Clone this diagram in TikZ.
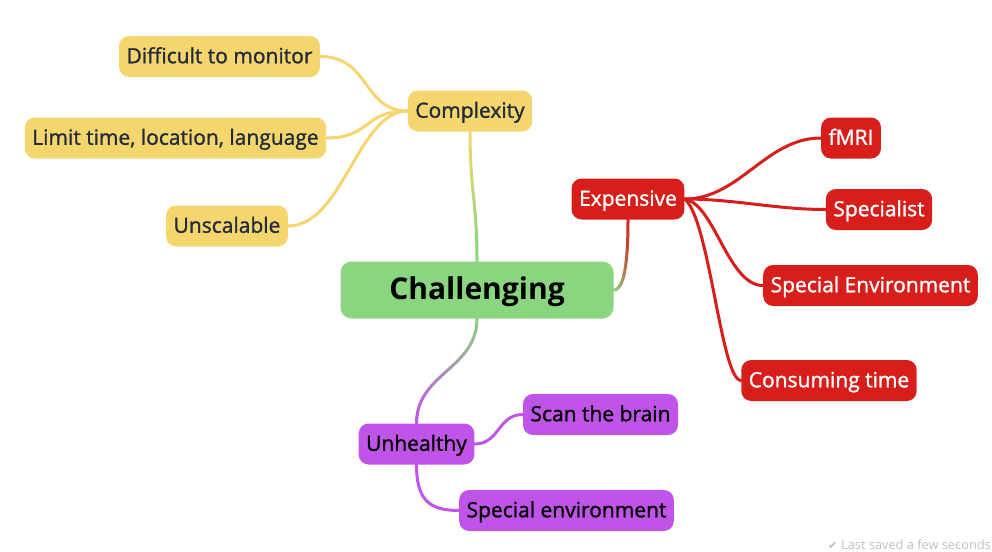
\documentclass[tikz,border=0pt]{standalone}
\usepackage{fontspec}
\setmainfont{Open Sans}
\newfontfamily\symfont{DejaVu Sans}
\usetikzlibrary{calc}

\definecolor{mmyellow}{RGB}{245,214,110}
\definecolor{mmgreen}{RGB}{138,213,127}
\definecolor{mmred}{RGB}{216,30,26}
\definecolor{mmpurple}{RGB}{192,84,233}
\definecolor{mmink}{RGB}{35,45,58}
\definecolor{mmgrey}{RGB}{190,190,190}

\tikzset{
	topic/.style={rounded corners=10pt, minimum height=41pt, inner xsep=7.5pt,
		text height=16.5pt, text depth=3pt,
		font=\fontsize{21}{25}\selectfont\addfontfeature{FakeBold=1.3}},
	yellowtopic/.style={topic, fill=mmyellow, text=mmink},
	redtopic/.style={topic, fill=mmred, text=white},
	purpletopic/.style={topic, fill=mmpurple, text=black},
	roottopic/.style={rounded corners=11pt, fill=mmgreen, text=black,
		minimum width=273pt, minimum height=57pt,
		text height=23pt, text depth=5pt,
		font=\fontsize{30}{34}\selectfont\bfseries},
	link/.style={line width=3pt, line cap=round},
}

% gradient connector: start, control 1, control 2, end, colour at start, colour at end
\newcommand\gradlink[6]{%
	\foreach \k in {1,...,24} {
		\pgfmathsetmacro\pct{int(100-(\k-0.5)*100/24)}
		\path (#1) .. controls #2 and #3 .. (#4)
			coordinate[pos={(\k-1)/24}] (ga) coordinate[pos={\k/24}] (gb);
		\draw[link, color=#5!\pct!#6] (ga) -- (gb);
	}
}

\begin{document}
\begin{tikzpicture}[x=1pt, y=-1pt]

% frame %{{{2

	\useasboundingbox (0,0) rectangle (992,551);

% nodes %{{{2

	\node[roottopic] (chall) at (477,290) {Challenging};

	\node[yellowtopic] (complex) at (470,111) {Complexity};
	\node[yellowtopic] (diff) at (219.5,56.5) {Difficult to monitor};
	\node[yellowtopic] (limit) at (175.5,138) {Limit time, location, language};
	\node[yellowtopic] (unscal) at (227,226) {Unscalable};

	\node[redtopic] (expens) at (628,199) {Expensive};
	\node[redtopic] (fmri) at (851,138) {fMRI};
	\node[redtopic] (spec) at (879,209.5) {Specialist};
	\node[redtopic] (specenv) at (870.5,285.5) {Special Environment};
	\node[redtopic] (consum) at (829,380.5) {Consuming time};

	\node[purpletopic] (unhea) at (416.5,444) {Unhealthy};
	\node[purpletopic] (scan) at (600.5,414.5) {Scan the brain};
	\node[purpletopic] (specenvb) at (566.5,510.5) {Special environment};

% main branches %{{{2

	\gradlink{complex.south}{+(0,60)}{+(0,-60)}{chall.north}{mmyellow}{mmgreen}
	\gradlink{expens.south}{+(0,45)}{+(10,0)}{chall.east}{mmred}{mmgreen}
	\gradlink{chall.south}{+(0,50)}{+(0,-50)}{unhea.north}{mmgreen}{mmpurple}

% leaves %{{{2

	\draw[link, mmyellow] (complex.west) .. controls +(-45,0) and +(50,0) .. (diff.east);
	\draw[link, mmyellow] (complex.west) .. controls +(-45,0) and +(45,0) .. (limit.east);
	\draw[link, mmyellow] (complex.west) .. controls +(-50,0) and +(55,0) .. (unscal.east);

	\draw[link, mmred] (expens.east) .. controls +(55,0) and +(-55,0) .. (fmri.west);
	\draw[link, mmred] (expens.east) .. controls +(50,0) and +(-50,0) .. (spec.west);
	\draw[link, mmred] (expens.east) .. controls +(30,5) and +(-35,0) .. (specenv.west);
	\draw[link, mmred] (expens.east) .. controls +(25,20) and +(-20,0) .. (consum.west);

	\draw[link, mmpurple] (unhea.east) .. controls +(25,0) and +(-25,0) .. (scan.west);
	\draw[link, mmpurple] (unhea.south) .. controls +(0,35) and +(-30,0) .. (specenvb.west);

% status line %{{{2

	\node[anchor=base east, text=mmgrey, inner sep=0pt, text depth=0pt,
		font=\fontsize{12.8}{15}\selectfont]
		(saved) at (991,549.5) {{\symfont\fontsize{11.5}{13}\selectfont ✔} Last saved a few seconds};

% closing %{{{2

\end{tikzpicture}
\end{document}
